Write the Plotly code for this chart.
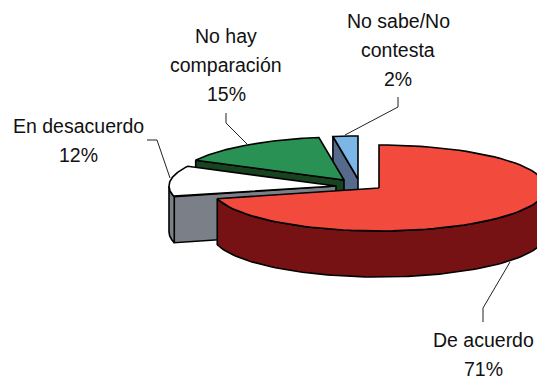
import numpy as np
import plotly.graph_objects as go

# shares clockwise from 12 o'clock
names = ['De acuerdo', 'En desacuerdo', 'No hay comparación', 'No sabe/No contesta']
values = [71.0, 11.6, 15.0, 2.4]
label_lines = [['De acuerdo'], ['En desacuerdo'], ['No hay', 'comparación'], ['No sabe/No', 'contesta']]

top_colors = ['#F24A3C', '#FFFFFF', '#2A9154', '#7BB6E6']
wall_colors = ['#771214', '#7B8088', '#17431F', '#566A8C']

# pie geometry in picture pixels
rx, ry, depth = 167, 43, 46
apex_x = [379, 336, 344, 358]
apex_y = [188, 186, 180, 179]

label_x = [483, 78, 226, 398]
label_y = [340, 126, 36, 21]
line_step = 29
leaders = [([510, 488, 483, 483], [262, 300, 308, 322]),
           ([147, 157, 170], [140, 140, 178]),
           ([226, 226, 247], [113, 123, 144]),
           ([398, 398, 345], [97, 107, 135])]

ends = np.cumsum(values) / sum(values) * 360
starts = np.concatenate([[0], ends[:-1]])


def arc(i, a0, a1, drop=0):
    t = np.radians(np.linspace(a0, a1, 90))
    return apex_x[i] + rx * np.sin(t), apex_y[i] - ry * np.cos(t) + drop


def poly(x, y, color):
    x = np.append(x, x[0])
    y = np.append(y, y[0])
    return go.Scatter(x=x, y=y, mode='lines', fill='toself', fillcolor=color,
                      line=dict(color='black', width=1.6), hoverinfo='skip')


traces = []
# back slices first, the big red one goes on top
for i in [3, 2, 1, 0]:
    s, e = starts[i], ends[i]
    # cut face along the starting radius
    if np.cos(np.radians(s - 90)) < -1e-6:
        ex, ey = arc(i, s, s, 0)
        traces.append(poly([ex[0], apex_x[i], apex_x[i], ex[0]],
                           [ey[0], apex_y[i], apex_y[i] + depth, ey[0] + depth], wall_colors[i]))
    # outer rim, only the part facing front
    a0, a1 = max(s, 90), min(e, 270)
    if a1 > a0:
        tx, ty = arc(i, a0, a1)
        bx, by = arc(i, a0, a1, depth)
        traces.append(poly(np.concatenate([tx, bx[::-1]]), np.concatenate([ty, by[::-1]]), wall_colors[i]))
    tx, ty = arc(i, s, e)
    traces.append(poly(np.concatenate([[apex_x[i]], tx]), np.concatenate([[apex_y[i]], ty]), top_colors[i]))

for lx, ly in leaders:
    traces.append(go.Scatter(x=lx, y=ly, mode='lines', line=dict(color='#222222', width=1), hoverinfo='skip'))

fig = go.Figure(traces)

for i in range(len(names)):
    lines = label_lines[i] + ['%d%%' % round(values[i])]
    for k, txt in enumerate(lines):
        fig.add_annotation(x=label_x[i], y=label_y[i] + k * line_step, text=txt, showarrow=False,
                           xref='x', yref='y', font=dict(family='Liberation Sans', size=19.5, color='#111111'))

fig.update_xaxes(range=[0, 537], visible=False, fixedrange=True)
fig.update_yaxes(range=[377, 0], visible=False, fixedrange=True)
fig.update_layout(width=537, height=377, margin=dict(l=0, r=0, t=0, b=0), showlegend=False,
                  paper_bgcolor='white', plot_bgcolor='white')
fig.write_html("out.html", post_script="document.body.style.margin='0';document.body.style.overflow='hidden';",
               config={'displayModeBar': False})
